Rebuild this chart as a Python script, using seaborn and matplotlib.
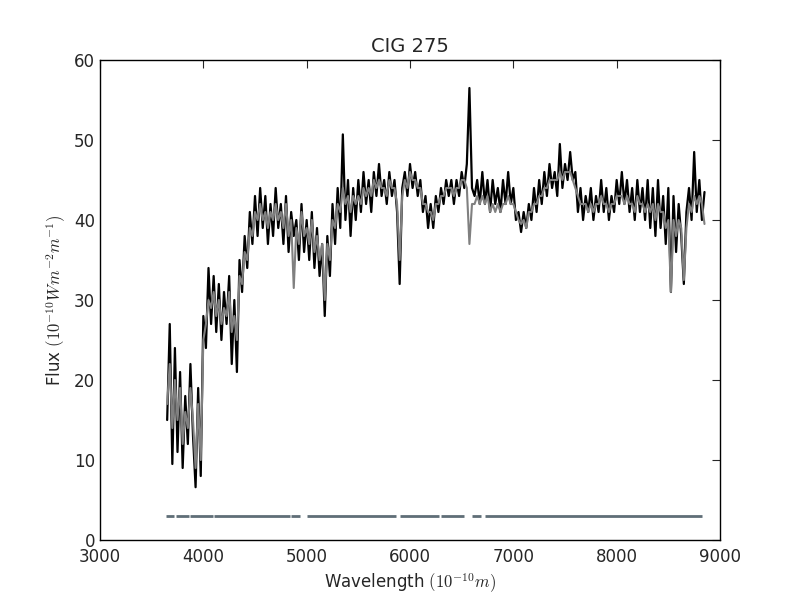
import numpy as np
import pandas as pd
import matplotlib
matplotlib.use("Agg")
import matplotlib.pyplot as plt
import seaborn as sns

# wavelength sampling (Angstrom)
wave_start = 3650
wave_step = 25
flux_obs = [
    15, 27, 9.5, 24,      # 3650
    11, 21, 9, 18,        # 3750
    12, 22, 13, 6.6,      # 3850
    19, 8, 28, 24,        # 3950
    34, 27, 33, 26,       # 4050
    32, 25, 31, 27,       # 4150
    33, 22, 30, 21,       # 4250
    35, 31, 38, 34,       # 4350
    41, 37, 43, 38,       # 4450
    44, 39, 43, 37,       # 4550
    42, 38, 44, 39,       # 4650
    42, 37, 43, 36,       # 4750
    41, 38, 40, 35,       # 4850
    42, 36, 40, 35,       # 4950
    41, 34, 39, 33,       # 5050
    37, 28, 38, 33,       # 5150
    42, 37, 44, 39,       # 5250
    50.7, 40, 45, 38,     # 5350
    44, 40, 45, 41,       # 5450
    46, 42, 45, 41,       # 5550
    46, 43, 47, 43,       # 5650
    45, 42, 46, 43,       # 5750
    45, 41, 32, 44,       # 5850
    46, 43, 47, 44,       # 5950
    46, 43, 45, 41,       # 6050
    43, 39, 42, 39,       # 6150
    43, 41, 44, 42,       # 6250
    45, 43, 45, 42,       # 6350
    45, 43, 46, 44,       # 6450
    47, 56.5, 44, 43,     # 6550
    45, 42, 46, 42,       # 6650
    45, 41, 45, 42,       # 6750
    44, 41, 45, 42,       # 6850
    46, 42, 44, 40,       # 6950
    41, 38.5, 41, 39,     # 7050
    42, 40, 44, 41,       # 7150
    45, 42, 46, 43,       # 7250
    47, 44, 46, 43,       # 7350
    49.5, 44, 47, 45,     # 7450
    48.5, 45, 46, 41,     # 7550
    44, 40, 43, 41,       # 7650
    44, 40, 43, 41,       # 7750
    45, 41, 44, 40,       # 7850
    43, 41, 45, 42,       # 7950
    46, 42, 45, 41,       # 8050
    44, 40, 45, 41,       # 8150
    44, 40, 45, 39,       # 8250
    44, 38, 45, 39,       # 8350
    43, 37, 44, 31,       # 8450
    43, 36, 42, 38,       # 8550
    32, 41, 44, 40,       # 8650
    48.5, 41, 45, 40,     # 8750
    43.5,                 # 8850
]
# synthetic fit (grey)
flux_fit = [
    17, 22, 14, 20,
    15, 19, 12, 16,
    14, 19, 15, 9,
    17, 10, 25, 27,
    30, 29, 31, 28,
    30, 27, 29, 28,
    31, 26, 28, 25,
    33, 32, 36, 35,
    39, 38, 41, 40,
    42, 40, 41, 39,
    41, 40, 42, 40,
    41, 39, 42, 38,
    40, 31.5, 39, 37,
    41, 38, 39, 37,
    40, 36, 38, 35,
    37, 30, 37, 35,
    40, 39, 42, 41,
    44, 42, 43, 41,
    43, 42, 43, 42,
    44, 43, 44, 43,
    45, 44, 45, 44,
    44, 43, 45, 44,
    44, 42, 35, 43,
    45, 44, 46, 45,
    45, 44, 44, 42,
    42, 41, 41, 40,
    42, 42, 43, 43,
    44, 44, 44, 43,
    44, 44, 45, 45,
    44, 37, 42, 42,
    43, 42, 43, 42,
    43, 41, 42, 41,
    42, 41, 42, 42,
    43, 42, 42, 41,
    40, 39.5, 40, 39,
    41, 41, 42, 42,
    43, 43, 44, 44,
    45, 45, 45, 45,
    46, 45, 46, 46,
    46, 45, 44, 43,
    42, 42, 42, 41,
    42, 41, 42, 42,
    43, 42, 42, 41,
    42, 42, 43, 43,
    43, 42, 43, 42,
    42, 41, 43, 42,
    42, 41, 42, 41,
    42, 40, 42, 41,
    41, 39, 40, 31,
    40, 38, 40, 39,
    32.5, 39, 42, 41,
    43, 42, 43, 42,
    39.5,
]
# masked-region bar at the bottom
mask_level = 3
mask_starts = [3643, 3732, 3868, 4100, 4850, 5007, 5900, 6304, 6596, 6725]
mask_ends = [3714, 3857, 4089, 4839, 4939, 5868, 6279, 6525, 6689, 8821]

wave = wave_start + wave_step * np.arange(len(flux_obs))
df = pd.DataFrame({"wave": wave, "obs": flux_obs, "fit": flux_fit})

sns.set_style("white")
plt.rcParams.update({
    "font.family": ["DejaVu Sans"],
    "font.size": 12,
    "mathtext.fontset": "cm",
    "xtick.direction": "in",
    "ytick.direction": "in",
    "xtick.top": True,
    "ytick.right": True,
    "xtick.major.size": 6,
    "ytick.major.size": 6,
    "xtick.major.pad": 6,
    "axes.edgecolor": "black",
    "axes.linewidth": 1.0,
})

fig, ax = plt.subplots(figsize=(8, 6), dpi=100)
fig.subplots_adjust(left=0.125, right=0.9, bottom=0.1, top=0.9)

sns.lineplot(data=df, x="wave", y="obs", ax=ax, color="black", lw=1.6)
sns.lineplot(data=df, x="wave", y="fit", ax=ax, color="#808080", lw=1.5)
ax.hlines([mask_level] * len(mask_starts), mask_starts, mask_ends,
          color="#5f6e77", lw=2)

ax.set_xlim(3000, 9000)
ax.set_ylim(0, 60)
ax.set_title("CIG 275", fontsize=14)
ax.set_xlabel(r"Wavelength $(10^{-10} m)$", fontsize=12)
ax.set_ylabel(r"Flux $(10^{-10} W m^{-2} m^{-1})$", fontsize=12)
ax.tick_params(labelsize=12)

fig.savefig("out.png", dpi=100)
